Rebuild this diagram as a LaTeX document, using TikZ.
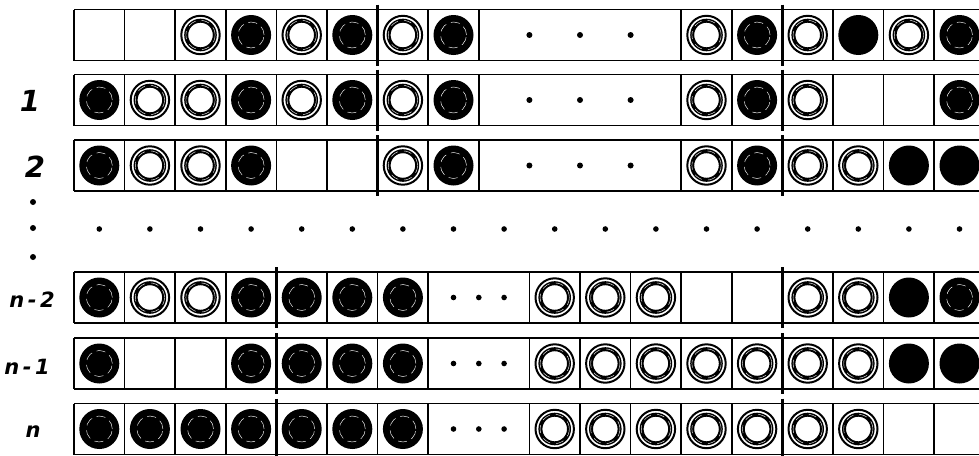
\documentclass[tikz,border=0pt]{standalone}
\usepackage{fontspec}
\setsansfont{DejaVu Sans}
\begin{document}
\begin{tikzpicture}[x=1pt,y=-1pt,
  cellline/.style={line width=1.6pt},
  thickline/.style={line width=3pt},
  lab/.style={font=\fontsize{29}{29}\selectfont\sffamily\bfseries\itshape, inner sep=0pt},
  labn/.style={font=\fontsize{21}{21}\selectfont\sffamily\bfseries\itshape, inner sep=0pt}]
\useasboundingbox (0,0) rectangle (979,455);
\clip (0,0) rectangle (979,455);
\def\X{74}
\def\W{50.6}
% cell contents
\newcommand\Bc[2]{%
  \fill ({\X+(#1+0.5)*\W},#2+25.5) circle[radius=20pt];
  \draw[white,line width=0.45pt,dash pattern=on 9pt off 5pt] ({\X+(#1+0.5)*\W},#2+25.5) circle[radius=13pt];}
\newcommand\Sc[2]{%
  \fill ({\X+(#1+0.5)*\W},#2+25.5) circle[radius=20pt];}
\newcommand\Wc[2]{%
  \draw[line width=2pt] ({\X+(#1+0.5)*\W},#2+25.5) circle[radius=19.2pt];
  \draw[line width=4pt] ({\X+(#1+0.5)*\W},#2+25.5) circle[radius=14.3pt];
  \draw[white,line width=0.4pt,dash pattern=on 8pt off 6pt] ({\X+(#1+0.5)*\W},#2+25.5) circle[radius=14.6pt];}
% upper rows
\foreach \t in {9.5,74.5,140}{
  \draw[cellline] (\X,\t) -- (990,\t) (\X,\t+51) -- (990,\t+51);
  \draw[cellline] (\X,\t) -- (\X,\t+51);
  \foreach \k in {1,2,3,4,5,7,8,12,13,15,16,17}
    \draw[cellline] ({\X+\k*\W},\t) -- ++(0,51);
  \foreach \k in {6,14}
    \draw[thickline] ({\X+\k*\W},\t-5) -- ++(0,61);
  \foreach \k in {9,10,11}
    \fill ({\X+\k*\W},\t+25.5) circle[radius=3pt];
}
% lower rows
\foreach \t in {272,338,403.5}{
  \draw[cellline] (\X,\t) -- (990,\t) (\X,\t+51) -- (990,\t+51);
  \draw[cellline] (\X,\t) -- (\X,\t+51);
  \foreach \k in {1,2,3,5,6,7,9,10,11,12,13,15,16,17}
    \draw[cellline] ({\X+\k*\W},\t) -- ++(0,51);
  \foreach \k in {4,14}
    \draw[thickline] ({\X+\k*\W},\t-5) -- ++(0,61);
  \foreach \k in {7.5,8,8.5}
    \fill ({\X+\k*\W},\t+25.5) circle[radius=2.8pt];
}
% row 0
\foreach \k/\c in {2/W,3/B,4/W,5/B,6/W,7/B,12/W,13/B,14/W,15/S,16/W,17/B}
  {\csname \c c\endcsname{\k}{9.5}}
% row 1
\foreach \k/\c in {0/B,1/W,2/W,3/B,4/W,5/B,6/W,7/B,12/W,13/B,14/W,17/B}
  {\csname \c c\endcsname{\k}{74.5}}
% row 2
\foreach \k/\c in {0/B,1/W,2/W,3/B,6/W,7/B,12/W,13/B,14/W,15/W,16/S,17/S}
  {\csname \c c\endcsname{\k}{140}}
% row n-2
\foreach \k/\c in {0/B,1/W,2/W,3/B,4/B,5/B,6/B,9/W,10/W,11/W,14/W,15/W,16/S,17/B}
  {\csname \c c\endcsname{\k}{272}}
% row n-1
\foreach \k/\c in {0/B,3/B,4/B,5/B,6/B,9/W,10/W,11/W,12/W,13/W,14/W,15/W,16/S,17/S}
  {\csname \c c\endcsname{\k}{338}}
% row n
\foreach \k/\c in {0/B,1/B,2/B,3/B,4/B,5/B,6/B,9/W,10/W,11/W,12/W,13/W,14/W,15/W}
  {\csname \c c\endcsname{\k}{403.5}}
% middle dotted row
\foreach \k in {0,...,17}
  \fill ({\X+(\k+0.5)*\W},229) circle[radius=2.8pt];
\foreach \yy in {202,228,257}
  \fill (33,\yy) circle[radius=3pt];
% labels
\node[lab] (l1) at (30,101) {1};
\node[lab] (l2) at (35,167) {2};
\node[labn] (ln2) at (32,300) {n\,-\,2};
\node[labn] (ln1) at (27,367) {n\,-\,1};
\node[labn] (ln) at (33,432) {n};
\end{tikzpicture}
\end{document}
